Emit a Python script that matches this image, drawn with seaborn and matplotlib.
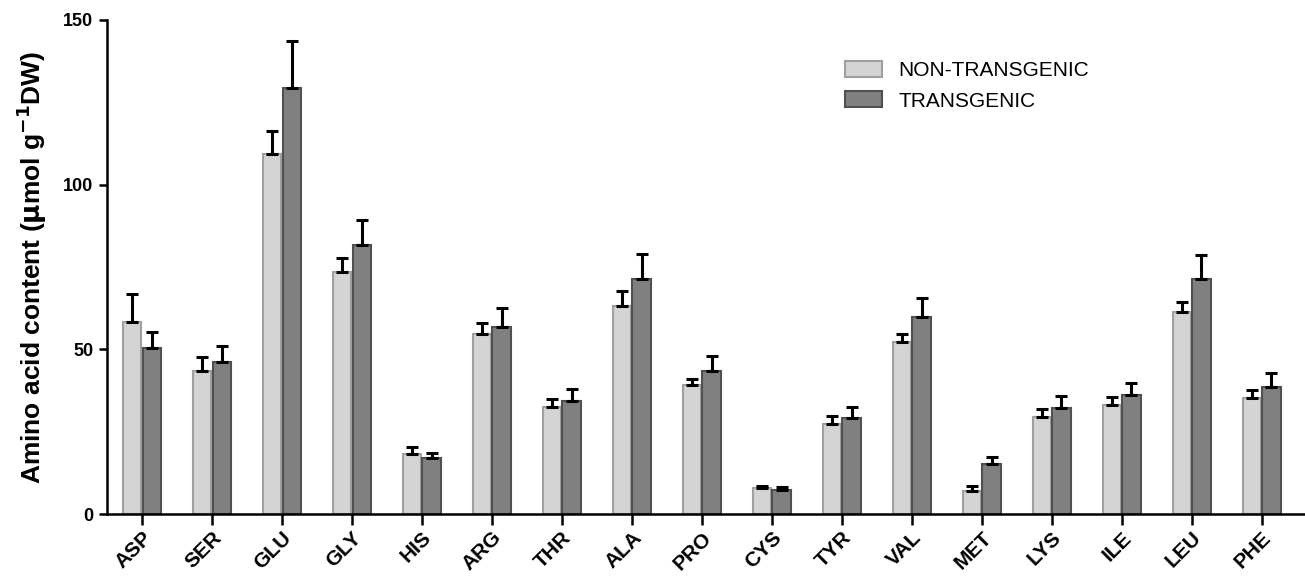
import numpy as np
import pandas as pd
import seaborn as sns
import matplotlib
matplotlib.use("Agg")
import matplotlib.pyplot as plt
from matplotlib.patches import Patch

amino_acids = ["ASP", "SER", "GLU", "GLY", "HIS", "ARG", "THR", "ALA", "PRO",
               "CYS", "TYR", "VAL", "MET", "LYS", "ILE", "LEU", "PHE"]
non_transgenic = [58.3, 43.6, 109.2, 73.4, 18.2, 54.7, 32.4, 63.3, 39.1,
                  7.9, 27.4, 52.4, 6.9, 29.5, 33.2, 61.5, 35.4]
non_transgenic_err = [8.6, 4.1, 7.2, 4.3, 2.2, 3.2, 2.5, 4.3, 2.0,
                      0.6, 2.3, 2.3, 1.6, 2.5, 2.5, 2.9, 2.3]
transgenic = [50.5, 46.2, 129.3, 81.7, 17.0, 56.9, 34.3, 71.5, 43.5,
              7.4, 29.1, 59.8, 15.2, 32.3, 36.1, 71.4, 38.7]
transgenic_err = [4.7, 4.9, 14.3, 7.7, 1.5, 5.7, 3.7, 7.4, 4.4,
                  0.8, 3.5, 5.9, 2.3, 3.5, 3.6, 7.1, 4.0]
groups = ["NON-TRANSGENIC", "TRANSGENIC"]

df = pd.DataFrame({
    "amino": amino_acids * 2,
    "group": [groups[0]] * len(amino_acids) + [groups[1]] * len(amino_acids),
    "value": non_transgenic + transgenic,
    "err": non_transgenic_err + transgenic_err,
})

sns.set_style("ticks", {"axes.edgecolor": "black", "text.color": "black",
                        "xtick.color": "black", "ytick.color": "black",
                        "axes.labelcolor": "black"})
plt.rcParams["font.family"] = ["Liberation Sans", "DejaVu Sans"]

fig = plt.figure(figsize=(13.05, 5.83), dpi=100)
ax = fig.add_axes([0.082, 0.118, 0.918, 0.848])

face = {groups[0]: "#d4d4d4", groups[1]: "#808080"}
edge = {groups[0]: "#a0a0a0", groups[1]: "#505050"}

sns.barplot(data=df, x="amino", y="value", hue="group", palette=face,
            width=0.56, gap=0.06, errorbar=None, legend=False, ax=ax,
            linewidth=1.5)

# colour edges and add one-sided error bars from the drawn patches
for container, g in zip(ax.containers, groups):
    sub = df[df["group"] == g]
    xs, ys = [], []
    for bar in container:
        bar.set_edgecolor(edge[g])
        xs.append(bar.get_x() + bar.get_width() / 2)
        ys.append(bar.get_height())
    ax.errorbar(xs, ys, yerr=[np.zeros(len(sub)), sub["err"].values],
                fmt="none", ecolor="black", elinewidth=2.2, capsize=4.5,
                capthick=2.2, zorder=1)

ax.set_ylim(0, 150)
ax.set_xlim(-0.5, 16.62)
ax.set_yticks([0, 50, 100, 150])
ax.set_xlabel("")
ax.set_ylabel("Amino acid content ($\\mathbf{\\mu}$mol g$^{\\mathbf{-1}}$DW)",
              fontsize=19, fontweight="bold", labelpad=10)
ax.tick_params(axis="y", labelsize=13, width=1.8, length=6, pad=4)
ax.tick_params(axis="x", labelsize=15, width=1.8, length=8, pad=2)
for lab in ax.get_yticklabels():
    lab.set_fontweight("bold")
for lab in ax.get_xticklabels():
    lab.set_fontweight("bold")
    lab.set_rotation(45)
    lab.set_ha("right")
    lab.set_rotation_mode("anchor")
for s in ["left", "bottom"]:
    ax.spines[s].set_linewidth(1.8)
sns.despine(ax=ax)

handles = [Patch(facecolor=face[g], edgecolor=edge[g], linewidth=1.5, label=g)
           for g in groups]
ax.legend(handles=handles, loc="upper left", bbox_to_anchor=(0.6, 0.955),
          frameon=False, fontsize=15, handlelength=1.8, handleheight=0.8,
          labelspacing=0.55, handletextpad=0.8)

fig.savefig("out.png", dpi=100)
